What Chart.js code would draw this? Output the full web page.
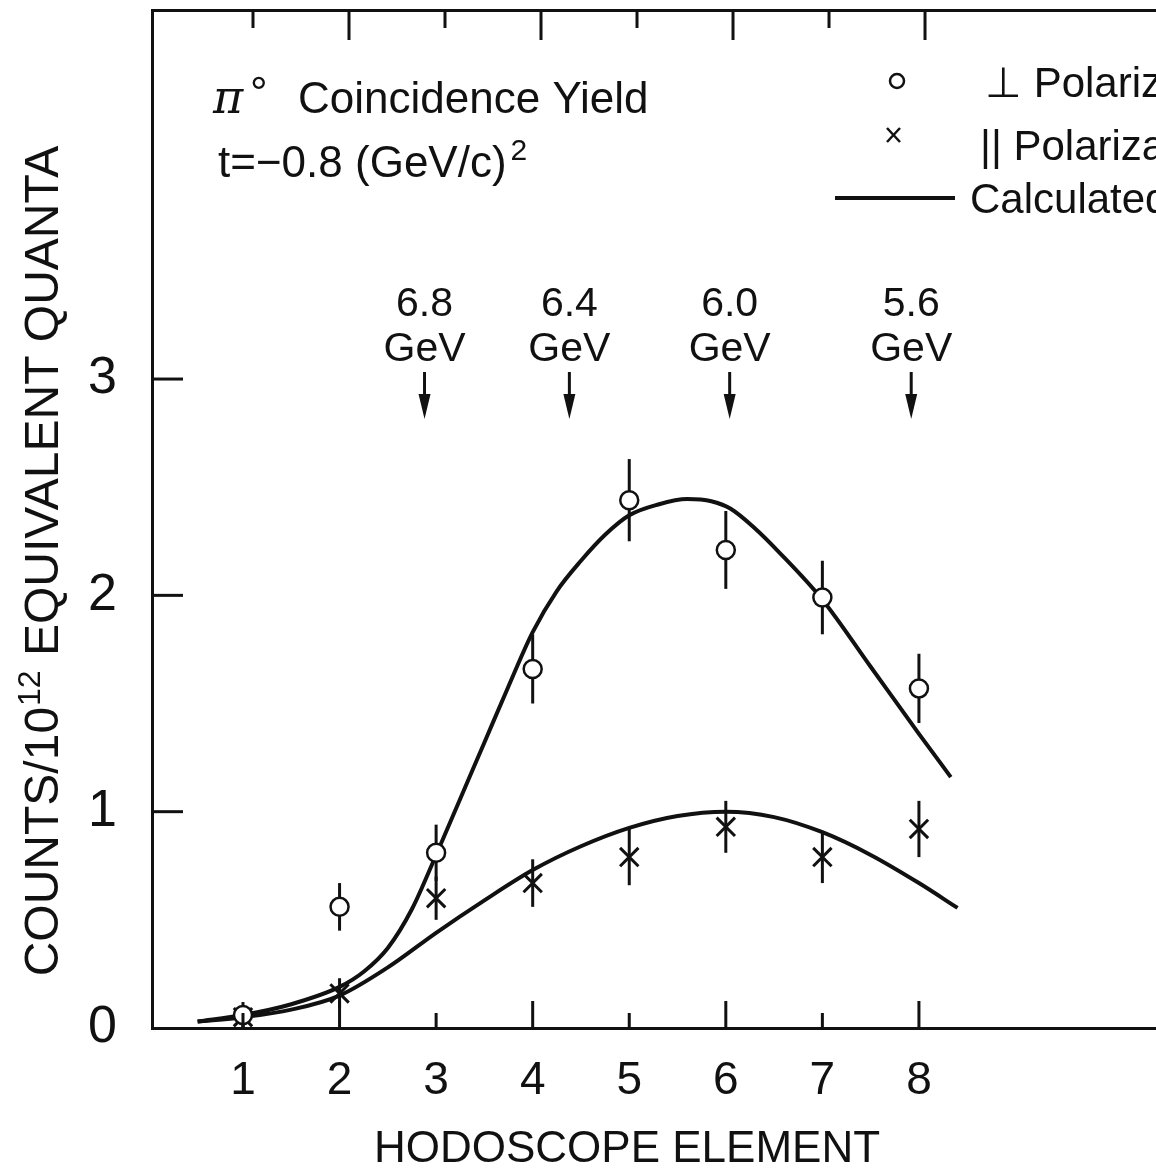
<!DOCTYPE html>
<html>
<head>
<meta charset="utf-8">
<script src="https://cdn.jsdelivr.net/npm/chart.js@4.4.1/dist/chart.umd.min.js"></script>
<style>
  html, body { margin: 0; padding: 0; background: #fff; overflow: hidden; }
  #wrap { width: 1156px; height: 1172px; }
</style>
</head>
<body>
<div id="wrap"><canvas id="chart" width="1156" height="1172"></canvas></div>
<script>
// measured yields per hodoscope element
const elements = [1, 2, 3, 4, 5, 6, 7, 8];
const perpYield = [0.06, 0.56, 0.81, 1.66, 2.44, 2.21, 1.99, 1.57];
const perpErr = [0.06, 0.11, 0.13, 0.16, 0.19, 0.18, 0.17, 0.16];
const parYield = [0.05, 0.16, 0.60, 0.67, 0.79, 0.93, 0.79, 0.92];
const parErr = [0.05, 0.07, 0.10, 0.11, 0.13, 0.12, 0.12, 0.13];

// calculated curves
const perpCalcX = [0.53, 1, 1.5, 2, 2.25, 2.5, 2.75, 3, 3.25, 3.5, 3.75, 4, 4.25, 4.5, 4.75, 5, 5.3, 5.6, 5.85, 6.05, 6.3, 6.55, 7, 7.5, 8, 8.33];
const perpCalcY = [0.03, 0.06, 0.11, 0.19, 0.26, 0.37, 0.55, 0.80, 1.06, 1.32, 1.58, 1.83, 2.02, 2.16, 2.28, 2.37, 2.42, 2.445, 2.435, 2.40, 2.31, 2.20, 1.98, 1.67, 1.36, 1.16];
const parCalcX = [0.53, 1, 1.5, 2, 2.5, 3, 3.5, 4, 4.5, 5, 5.5, 6, 6.5, 7, 7.5, 8, 8.4];
const parCalcY = [0.03, 0.05, 0.085, 0.15, 0.28, 0.44, 0.59, 0.73, 0.84, 0.925, 0.98, 1.0, 0.975, 0.905, 0.80, 0.67, 0.555];

// photon energy markers along the hodoscope
const energyLabels = ['6.8', '6.4', '6.0', '5.6'];
const energyPos = [2.88, 4.38, 6.04, 7.92];

const yTicks = [0, 1, 2, 3];

const INK = '#111';
const FONT = '"Liberation Sans", Arial, sans-serif';

const toPoints = (xs, ys) => xs.map((x, i) => ({ x, y: ys[i] }));

function line(ctx, x1, y1, x2, y2) {
  ctx.beginPath();
  ctx.moveTo(x1, y1);
  ctx.lineTo(x2, y2);
  ctx.stroke();
}

// error bars go under the markers
const errorBars = {
  id: 'errorBars',
  beforeDatasetsDraw(chart) {
    const { ctx, scales: { x, y } } = chart;
    ctx.save();
    ctx.strokeStyle = INK;
    ctx.lineWidth = 3;
    const draw = (vals, errs) => vals.forEach((v, i) => {
      const px = x.getPixelForValue(elements[i]);
      line(ctx, px, y.getPixelForValue(v - errs[i]), px, y.getPixelForValue(v + errs[i]));
    });
    draw(perpYield, perpErr);
    draw(parYield, parErr);
    ctx.restore();
  }
};

const decorations = {
  id: 'decorations',
  afterDraw(chart) {
    const { ctx, chartArea, scales: { x, x2, y } } = chart;
    ctx.save();
    ctx.strokeStyle = INK;
    ctx.fillStyle = INK;
    ctx.lineWidth = 3;

    // inward ticks, long on even elements
    elements.forEach(e => {
      const pb = x.getPixelForValue(e);
      line(ctx, pb, chartArea.bottom, pb, chartArea.bottom - (e % 2 === 0 ? 27 : 15));
      const pt = x2.getPixelForValue(e);
      line(ctx, pt, chartArea.top, pt, chartArea.top + (e % 2 === 0 ? 30 : 18));
    });
    yTicks.forEach(v => {
      if (v === 0) return;
      const py = y.getPixelForValue(v);
      line(ctx, chartArea.left, py, chartArea.left + 31, py);
    });

    // title block
    ctx.textBaseline = 'alphabetic';
    ctx.textAlign = 'left';
    ctx.font = 'italic 46px "DejaVu Serif", serif';
    ctx.fillText('π', 213, 113);
    ctx.font = '44px ' + FONT;
    ctx.fillText('°', 250, 108);
    ctx.fillText('Coincidence Yield', 298, 113);
    const tText = 't=−0.8 (GeV/c)';
    ctx.fillText(tText, 218, 177);
    const tw = ctx.measureText(tText).width;
    ctx.font = '30px ' + FONT;
    ctx.fillText('2', 218 + tw + 4, 160);

    // legend
    ctx.lineWidth = 2.5;
    ctx.beginPath();
    ctx.arc(897, 81, 7, 0, Math.PI * 2);
    ctx.stroke();
    line(ctx, 887, 128, 900, 142);
    line(ctx, 900, 128, 887, 142);
    ctx.lineWidth = 4;
    line(ctx, 835, 198, 955, 198);
    ctx.font = '42px ' + FONT;
    ctx.fillText('⊥ Polarization', 985, 97);
    ctx.fillText('|| Polarization', 980, 160);
    ctx.fillText('Calculated', 970, 213);

    // energy arrows
    ctx.textAlign = 'center';
    ctx.lineWidth = 3;
    energyLabels.forEach((lab, i) => {
      const px = x.getPixelForValue(energyPos[i]);
      ctx.font = '41px ' + FONT;
      ctx.fillText(lab, px, 316);
      ctx.fillText('GeV', px, 361);
      line(ctx, px, 372, px, 398);
      ctx.beginPath();
      ctx.moveTo(px - 6, 394);
      ctx.lineTo(px + 6, 394);
      ctx.lineTo(px, 419);
      ctx.closePath();
      ctx.fill();
    });

    // axis titles
    ctx.font = '44px ' + FONT;
    ctx.fillText('HODOSCOPE ELEMENT', 627, 1162);

    ctx.save();
    ctx.translate(58, 562);
    ctx.rotate(-Math.PI / 2);
    ctx.textAlign = 'left';
    const big = '48px ' + FONT;
    const small = '32px ' + FONT;
    const p1 = 'COUNTS/10', p2 = '12', p3 = ' EQUIVALENT QUANTA';
    ctx.font = big;
    const w1 = ctx.measureText(p1).width;
    const w3 = ctx.measureText(p3).width;
    ctx.font = small;
    const w2 = ctx.measureText(p2).width;
    const cx = -(w1 + w2 + w3) / 2;
    ctx.font = big;
    ctx.fillText(p1, cx, 0);
    ctx.font = small;
    ctx.fillText(p2, cx + w1 + 1, -18);
    ctx.font = big;
    ctx.fillText(p3, cx + w1 + w2 + 2, 0);
    ctx.restore();

    ctx.restore();
  }
};

new Chart(document.getElementById('chart'), {
  type: 'line',
  data: {
    datasets: [
      {
        label: '⊥ Polarization',
        data: toPoints(elements, perpYield),
        showLine: false,
        pointStyle: 'circle',
        pointRadius: 9,
        pointBackgroundColor: '#fff',
        pointBorderColor: INK,
        pointBorderWidth: 2.5,
        order: 0
      },
      {
        label: '|| Polarization',
        data: toPoints(elements, parYield),
        showLine: false,
        pointStyle: 'crossRot',
        pointRadius: 13,
        pointBorderColor: INK,
        pointBorderWidth: 3,
        order: 1
      },
      {
        label: 'Calculated ⊥',
        data: toPoints(perpCalcX, perpCalcY),
        borderColor: INK,
        borderWidth: 4,
        pointRadius: 0,
        cubicInterpolationMode: 'monotone',
        fill: false,
        order: 2
      },
      {
        label: 'Calculated ||',
        data: toPoints(parCalcX, parCalcY),
        borderColor: INK,
        borderWidth: 4,
        pointRadius: 0,
        cubicInterpolationMode: 'monotone',
        fill: false,
        order: 3
      }
    ]
  },
  options: {
    responsive: false,
    devicePixelRatio: 1,
    animation: false,
    // point radius would otherwise pad the chart area
    layout: { padding: 0, autoPadding: false },
    plugins: {
      legend: { display: false },
      tooltip: { enabled: false }
    },
    scales: {
      x: {
        type: 'linear',
        position: 'bottom',
        min: 0.0577,
        max: 10.455,
        afterBuildTicks: s => { s.ticks = elements.map(v => ({ value: v })); },
        afterFit: s => { s.height = 144; s.paddingLeft = 0; s.paddingRight = 0; },
        grid: { display: false, drawTicks: false },
        border: { display: true, color: INK, width: 3 },
        ticks: { color: INK, font: { family: FONT, size: 46 }, padding: 26, maxRotation: 0 }
      },
      x2: {
        type: 'linear',
        position: 'top',
        min: -0.052,
        max: 10.406,
        afterBuildTicks: s => { s.ticks = elements.map(v => ({ value: v })); },
        afterFit: s => { s.height = 10; s.paddingLeft = 0; s.paddingRight = 0; },
        grid: { display: false, drawTicks: false },
        border: { display: true, color: INK, width: 3 },
        ticks: { display: false }
      },
      y: {
        type: 'linear',
        position: 'left',
        min: 0,
        max: 4.706,
        afterBuildTicks: s => { s.ticks = yTicks.map(v => ({ value: v })); },
        afterFit: s => { s.width = 152; s.paddingTop = 0; s.paddingBottom = 0; },
        grid: { display: false, drawTicks: false },
        border: { display: true, color: INK, width: 3 },
        ticks: { color: INK, font: { family: FONT, size: 52 }, padding: 35 }
      }
    }
  },
  plugins: [errorBars, decorations]
});
</script>
</body>
</html>
